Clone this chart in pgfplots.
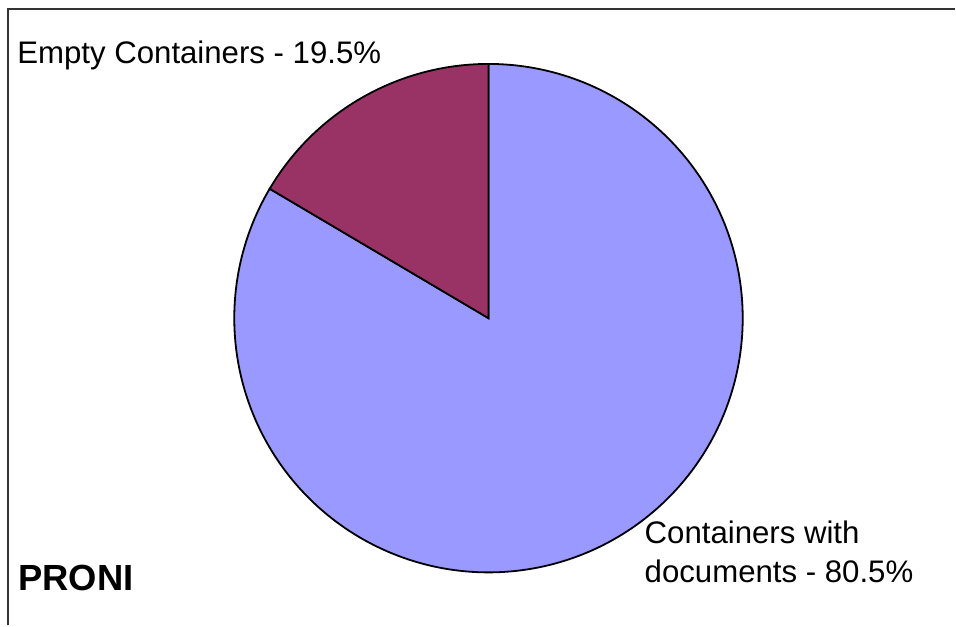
\documentclass[border=0pt]{standalone}
\usepackage{pgfplots}
\usepackage{pgfplotstable}
\pgfplotsset{compat=1.18}
\usepackage{fontspec}
\setmainfont{Liberation Sans}
\definecolor{slicepurple}{HTML}{993366}
\definecolor{sliceblue}{HTML}{9999FF}
\definecolor{framegray}{HTML}{333333}
% drawn slice shares (percent)
\pgfplotstableread{
name value
Empty 16.5
Docs 83.5
}\piedata
\pgfplotstablegetelem{0}{value}\of\piedata
\let\vEmpty\pgfplotsretval
\pgfmathsetmacro{\aStart}{90}
\pgfmathsetmacro{\aMid}{90+3.6*\vEmpty}
\pgfmathsetmacro{\aEnd}{450}
\def\cx{489}
\def\cy{307.5}
\def\rr{254.5}
\begin{document}
\begin{tikzpicture}
\begin{axis}[
  width=478pt, height=313pt, scale only axis,
  xmin=0, xmax=956, ymin=0, ymax=626,
  axis lines=none, clip=false,
]
\path (axis cs:0,0) (axis cs:956,626);
\draw[framegray, line width=1pt] (axis cs:8.5,0) -- (axis cs:8.5,617) -- (axis cs:956,617);
\addplot[fill=sliceblue, draw=black, line width=0.9pt, domain=\aMid:\aEnd, samples=200, smooth]
  ({\cx+\rr*cos(x)}, {\cy+\rr*sin(x)}) -- (axis cs:\cx,\cy) -- cycle;
\addplot[fill=slicepurple, draw=black, line width=0.9pt, domain=\aStart:\aMid, samples=60, smooth]
  ({\cx+\rr*cos(x)}, {\cy+\rr*sin(x)}) -- (axis cs:\cx,\cy) -- cycle;
\node[anchor=base west, inner sep=0, font=\fontsize{15.6}{18}\selectfont] at (axis cs:17,562.5) {Empty Containers - 19.5\%};
\node[anchor=base west, inner sep=0, font=\fontsize{15.6}{18}\selectfont] at (axis cs:645,81.7) {Containers with};
\node[anchor=base west, inner sep=0, font=\fontsize{15.6}{18}\selectfont] at (axis cs:645,43) {documents - 80.5\%};
\node[anchor=base west, inner sep=0, font=\fontsize{18.2}{22}\selectfont\bfseries] at (axis cs:18,35.3) {PRONI};
\end{axis}
\end{tikzpicture}
\end{document}
